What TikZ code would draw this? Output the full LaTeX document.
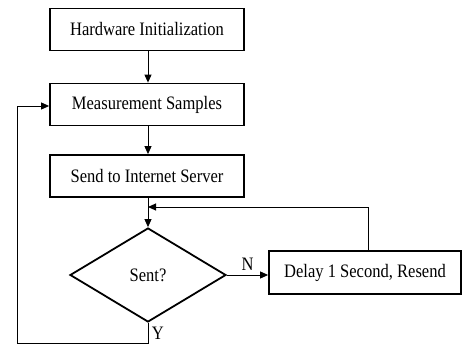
\documentclass[tikz,border=0pt]{standalone}
\usepackage{fontspec}
\setmainfont{Liberation Serif}[FakeStretch=0.87]
\usetikzlibrary{shapes.geometric,arrows.meta}
\begin{document}
\begin{tikzpicture}[x=1pt,y=-1pt,
  txt/.style={font=\fontsize{19}{22}\selectfont},
  box/.style={draw,line width=1.8pt,minimum height=42pt,inner sep=0pt,txt},
  dec/.style={draw,diamond,line width=1.8pt,minimum width=156pt,minimum height=94pt,inner sep=0pt,txt},
  conn/.style={line width=0.9pt,-{Triangle[length=8pt,width=7pt]}},
  plain/.style={line width=0.9pt}]
\useasboundingbox (0,0) rectangle (465,347);
\node[box,minimum width=194pt] (hw) at (147,29.5) {Hardware Initialization};
\node[box,minimum width=194pt] (ms) at (147,104.5) {Measurement Samples};
\node[box,minimum width=194pt] (si) at (147,176) {Send to Internet Server};
\node[dec] (st) at (148,275) {Sent?};
\node[box,minimum width=192pt,minimum height=43pt] (dl) at (365,272.5) {Delay 1 Second, Resend};
\coordinate (m) at (148,207);
\coordinate (yb) at (148,343);
\coordinate (yl) at (17,343);
\coordinate (yt) at (17,106);
\draw[conn] (hw.south -| 148,0) -- (ms.north -| 148,0);
\draw[conn] (ms.south -| 148,0) -- (si.north -| 148,0);
\draw[conn] (si.south -| 148,0) -- (st.north);
\draw[conn] (dl.north -| 368,0) |- (m);
\draw[conn] (st.east) -- (st.east -| dl.west) node[txt,midway,above=1pt] {N};
\draw[plain] (st.south) -- (yb) node[txt,pos=0.5,right=0pt] {Y} -- (yl) -- (yt);
\draw[conn] (yt) -- (yt -| ms.west);
\end{tikzpicture}
\end{document}
